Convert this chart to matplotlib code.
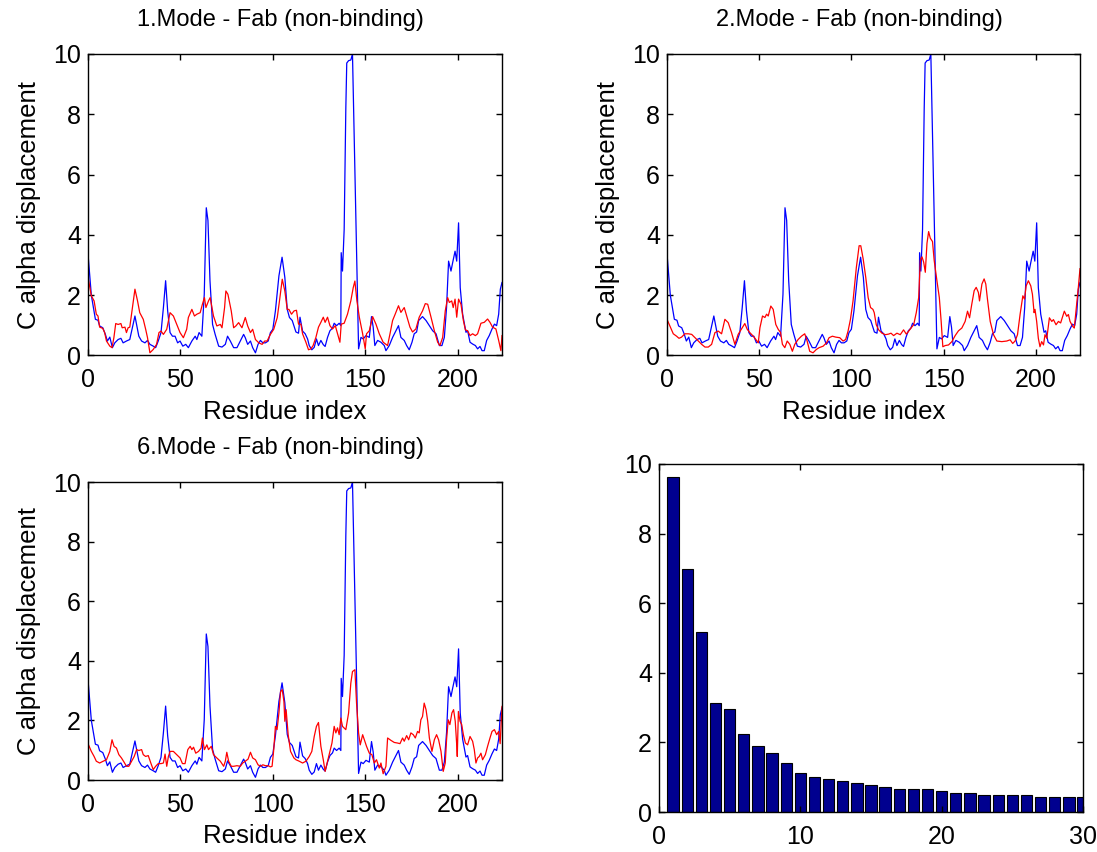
import numpy as np
import matplotlib
matplotlib.use("Agg")
import matplotlib.pyplot as plt

plt.rcParams['font.family'] = ['Liberation Sans', 'DejaVu Sans']
plt.rcParams['font.size'] = 17

# reference displacement (same in all three mode plots)
blue_idx = [0, 1.8, 4, 5.4, 6.3, 8, 9.4, 10.5, 11.8, 13.2, 14.5, 16.3, 17.8, 19, 20.8, 22.6, 23.6, 25.4, 26.3, 27.5,
            29, 30.8, 32.2, 33.5, 35.3, 36.6, 38, 39.5, 40.8, 42, 43.1, 44.4, 45.7, 47.1, 48.5, 49.8, 51.3, 52.9, 54.3,
            56.2, 58, 58.9, 60.1, 61.6, 62.9, 64, 64.9, 66, 67.4, 68.8, 70.7, 72.5, 74.3, 75.5, 77, 78.8, 80.6, 82.4,
            84.2, 85.1, 86.4, 87.9, 89.1, 90.6, 92, 93.3, 94.6, 96, 97.5, 98.7, 100, 101.4, 103.3, 105, 106.5, 107.8,
            109, 110.5, 112.5, 113.9, 114.7, 116.1, 117.5, 118.8, 119.7, 121.1, 122.4, 123.6, 124.7, 126, 127.3,
            128.3, 129.6, 130.9, 132.3, 133.2, 134.5, 135.9, 136.8, 137, 137.7, 138.6, 139.5, 140, 141, 142.2, 143.1,
            146.4, 147.7, 148.9, 150.4, 152.2, 153.4, 154.3, 155.2, 156.7, 158.5, 160.3, 161.2, 163, 164.8, 166.6,
            168, 169.3, 171.1, 172.4, 173.8, 175.3, 176.5, 177.8, 178.9, 181, 182.9, 184.7, 186.5, 188.3, 190.1,
            191.5, 192.8, 194, 195.1, 196.4, 197.3, 198.6, 199.5, 200.5, 201.4, 202.7, 204.5, 205.4, 206.7, 208.1,
            209.6, 210.8, 212.1, 213.2, 214.4, 215.7, 217.1, 218.6, 219.9, 221.1, 222.2, 223.1, 224]
blue_val = [3.37, 2.0, 1.2, 1.17, 0.98, 0.92, 0.7, 0.48, 0.61, 0.26, 0.42, 0.53, 0.57, 0.42, 0.48, 0.53, 0.81, 1.31,
            1.03, 0.64, 0.48, 0.42, 0.5, 0.37, 0.31, 0.26, 0.48, 0.76, 1.59, 2.48, 1.48, 0.76, 0.64, 0.64, 0.42, 0.48,
            0.31, 0.37, 0.26, 0.48, 0.64, 0.53, 0.76, 0.64, 2.03, 4.9, 4.48, 2.48, 1.03, 0.7, 0.31, 0.28, 0.37, 0.64,
            0.48, 0.26, 0.26, 0.48, 0.7, 0.59, 0.37, 0.48, 0.26, 0.09, 0.37, 0.5, 0.42, 0.42, 0.48, 0.76, 0.87, 1.48,
            2.64, 3.26, 2.59, 1.53, 1.26, 1.16, 0.78, 0.74, 1.27, 0.81, 0.72, 0.55, 0.33, 0.19, 0.27, 0.55, 0.33, 0.5,
            0.36, 0.3, 0.6, 0.82, 0.91, 1.07, 0.99, 1.07, 0.99, 3.41, 2.8, 4.18, 8.2, 9.7, 9.78, 9.8, 10.0,
            0.22, 0.6, 0.55, 0.66, 0.6, 1.29, 0.94, 0.33, 0.5, 0.44, 0.33, 0.16, 0.33, 0.6, 0.82,
            0.99, 0.6, 0.5, 0.33, 0.19, 0.44, 0.72, 0.78, 1.16, 1.29, 1.16, 0.99, 0.82, 0.72, 0.33,
            0.33, 0.6, 1.59, 3.13, 2.8, 3.08, 3.46, 3.13, 4.4, 2.25, 1.37, 0.77, 0.82, 0.44, 0.38,
            0.33, 0.22, 0.3, 0.16, 0.16, 0.5, 0.66, 0.88, 1.04, 0.99, 1.37, 2.2, 2.42]

# mode 1
red1_idx = [0, 1.8, 3.3, 4.5, 5.4, 6.3, 8, 9, 10, 11.8, 13, 14, 15, 16.3, 17.8, 18.5, 20, 20.8, 21.7, 22.6, 23.9, 25.4,
            26.8, 28, 29.9, 31.2, 32.2, 33.5, 35.3, 37.1, 38.4, 39.5, 40.8, 42.6, 44.4, 46.2, 48, 49.8, 51.6, 53.4,
            54.3, 56.2, 57.6, 58.9, 60.7, 61.9, 63, 63.8, 65.2, 66.1, 67.9, 69.7, 71.6, 72.5, 73.9, 74.6, 75.7, 77.5,
            78.8, 80, 81.5, 83.3, 85.1, 86.4, 87.9, 89.1, 90.6, 92.4, 94.2, 95.6, 96.9, 98.7, 100.5, 102.4, 103.6,
            105.1, 106.5, 107.8, 108.7, 110.1, 111.5, 112.8, 113.9, 115.2, 116.1, 117.9, 119.3, 120.6, 121.8, 123.3,
            124.7, 126, 127.3, 128.3, 129.6, 130.9, 132.3, 133.8, 135, 136.3, 137, 138.6, 140.4, 142.2, 143.5, 144.4,
            145.5, 146.8, 148.6, 150, 150.7, 152.2, 154, 155.8, 157.6, 159.7, 162.1, 163.4, 164.8, 166.2, 168, 169.3,
            171.1, 172.9, 174.2, 175.6, 177.4, 179.2, 181, 182.5, 183.8, 185.6, 187.4, 189.2, 190.4, 191.9, 193.3,
            194.6, 195.5, 196.8, 197.6, 198.6, 199.5, 200.5, 201.8, 203.1, 204.2, 205.4, 206.7, 208.1, 209.6, 210.8,
            212.6, 214.4, 216.2, 217.5, 218.9, 220.7, 222.2, 223.4, 224]
red1_val = [2.6, 1.98, 1.81, 1.37, 1.31, 0.94, 0.9, 0.76, 0.48, 0.31, 0.26, 0.59, 1.06, 1.03, 1.06, 0.92, 0.94, 0.76,
            0.92, 0.94, 1.53, 2.2, 1.81, 1.42, 1.2, 0.87, 0.59, 0.09, 0.2, 0.37, 0.76, 0.81, 0.7, 0.87, 1.42, 1.31,
            1.03, 0.76, 0.59, 0.87, 1.26, 1.53, 1.31, 1.37, 1.42, 1.7, 1.92, 1.59, 1.81, 1.92, 1.31, 0.98, 1.03, 0.92,
            1.59, 2.14, 2.03, 1.48, 0.92, 0.98, 1.09, 0.92, 1.26, 0.98, 0.76, 0.87, 0.53, 0.42, 0.37, 0.48, 0.48, 0.7,
            0.87, 1.26, 1.81, 2.53, 2.14, 1.53, 1.53, 1.37, 1.48, 1.5, 1.04, 1.04, 0.72, 0.44, 0.19, 0.22, 0.33, 0.6,
            0.94, 1.1, 1.27, 1.1, 1.27, 0.99, 0.88, 0.99, 0.72, 0.44, 1.04, 1.07, 1.37, 1.81, 2.25, 2.47, 1.81, 1.27,
            0.72, 0.22, 0.72, 0.82, 1.29, 1.04, 0.72, 0.44, 0.33, 0.72, 1.16, 1.37, 1.65, 1.43, 1.59, 1.21, 0.94, 0.78,
            0.88, 1.27, 1.48, 1.72, 1.7, 1.27, 0.82, 0.44, 0.33, 0.6, 1.48, 1.92, 1.76, 1.81, 1.59, 1.87, 1.27, 1.87,
            1.7, 1.16, 0.85, 0.82, 0.66, 0.72, 0.66, 0.72, 1.07, 1.1, 1.21, 1.1, 0.94, 0.88, 0.5, 0.16, 0.66]

# mode 2
red2_idx = [0, 2, 3.4, 5.2, 6.5, 7.9, 9.7, 11.6, 13.4, 15.2, 17, 18.8, 20.6, 22.4, 24.2, 26, 27.8, 29.6, 31.4, 33.2,
            35, 36.8, 38.6, 40.3, 42.2, 43.5, 44.9, 46.8, 48.2, 49.5, 50.4, 51.8, 53.1, 54, 54.9, 56.3, 57.6, 59,
            60.3, 61.6, 62.6, 63.9, 65.2, 66.6, 68, 69.3, 71.1, 72.9, 74.7, 76, 77.4, 79.2, 81, 82.5, 84.7, 86.5,
            87.9, 89.7, 91.5, 93.7, 95.5, 96.9, 98.2, 99.5, 100.9, 102.7, 104.2, 105.1, 106.4, 107.8, 109.1, 110.4,
            111.7, 112.4, 113.5, 114.8, 116.6, 118.4, 120.2, 121.5, 122.9, 124.7, 126.5, 128.3, 129.8, 131, 132.3,
            133.8, 135.2, 136.5, 137.4, 138.3, 139.2, 140.1, 141, 141.9, 142.8, 144, 144.9, 146.4, 147.7, 148.7,
            149.6, 150.9, 152.7, 154.5, 156.3, 158.1, 159.9, 161.7, 163, 164.1, 165.3, 166.6, 167.7, 168.9, 169.5,
            170.8, 172, 172.9, 173.8, 175.3, 177.1, 178.9, 181.6, 184.3, 186.1, 187.5, 188.8, 190.1, 191.5, 193,
            193.9, 194.8, 196, 197.3, 198.2, 199.1, 199.6, 200.5, 201.4, 202.3, 203.2, 204.2, 205, 206, 207.4, 208.7,
            209.6, 211, 212.3, 213.5, 214.6, 215.5, 216.8, 217.7, 218.6, 220, 220.9, 221.8, 223.1, 224]
red2_val = [1.2, 0.92, 0.72, 0.64, 0.57, 0.61, 0.72, 0.72, 0.7, 0.59, 0.48, 0.37, 0.28, 0.28, 0.37, 0.76, 0.81, 0.72,
            1.2, 1.09, 0.76, 0.37, 0.7, 0.87, 1.06, 0.87, 0.76, 0.64, 0.53, 0.42, 0.92, 1.31, 1.26, 1.37, 1.31, 1.64,
            1.53, 1.03, 0.87, 0.76, 0.37, 0.26, 0.48, 0.37, 0.14, 0.37, 0.53, 0.64, 0.72, 0.48, 0.14, 0.09, 0.2, 0.26,
            0.31, 0.42, 0.59, 0.64, 0.61, 0.59, 0.48, 0.53, 0.81, 1.2, 1.81, 2.92, 3.64, 3.64, 3.2, 2.59, 1.92, 1.59,
            1.53, 1.42, 1.02, 0.85, 0.74, 0.69, 0.71, 0.74, 0.66, 0.74, 0.69, 0.85, 0.71, 0.8, 0.91, 1.02, 1.42, 1.92,
            3.16, 3.27, 3.1, 2.76, 3.72, 4.11, 3.89, 3.78, 3.16, 2.48, 1.92, 1.13, 0.29, 0.33, 0.35, 0.46, 0.66, 0.82,
            0.91, 1.13, 1.47, 1.25, 1.7, 2.15, 2.26, 2.09, 1.81, 2.37, 2.54, 2.37, 1.87, 1.13, 0.69, 0.48, 0.46, 0.48,
            0.52, 0.4, 0.48, 0.69, 1.36, 1.98, 1.87, 2.31, 2.48, 2.31, 2.03, 1.42, 1.53, 1.13, 0.57, 0.29, 0.46, 0.35,
            0.69, 0.57, 1.25, 1.13, 1.19, 1.02, 1.13, 1.08, 1.3, 1.47, 1.3, 1.36, 1.13, 0.97, 0.91, 1.47, 2.26, 2.88]

# mode 6
red6_idx = [0, 1.8, 3.3, 4.5, 6.3, 8.2, 10, 11.8, 13, 14.1, 15.4, 16.7, 18.1, 19.6, 20.8, 22.1, 23.6, 25, 26.3, 27.5,
            29, 29.9, 31.2, 32.6, 34.1, 35.3, 36.6, 38, 39.5, 40.8, 41.7, 42.6, 43.5, 44.4, 46.2, 48, 49.8, 51.1,
            52.5, 54, 55.3, 56.2, 57.1, 58.3, 59.8, 61.2, 61.9, 63, 64.3, 65.2, 66.7, 67.9, 69.7, 71.6, 73.4, 74.3,
            75.1, 76.1, 77.5, 78.8, 80.6, 82.4, 83.7, 85.1, 86.6, 87.9, 89.1, 90.6, 92, 93.3, 94.6, 96, 97.5, 98.7,
            99.6, 100.5, 101.4, 102.3, 103.3, 104.2, 105.1, 106, 106.5, 107.2, 108.3, 109.6, 111.4, 112.5, 114.3,
            116.1, 117.9, 119.7, 121.1, 122.4, 123.6, 124.7, 126, 127.3, 128.3, 129.6, 130.9, 132, 133.2, 134.1, 135,
            135.9, 136.8, 137.7, 139.5, 141, 142.2, 143.1, 144.4, 145.3, 146.4, 147.3, 148.6, 149.5, 150.7, 152.2,
            153.6, 154.9, 156.1, 157.6, 158.5, 159.7, 161.2, 162.1, 163.9, 165.7, 167.5, 168.8, 170.2, 171.1, 172.4,
            173.5, 174.7, 176, 177.1, 178.3, 179.2, 180.1, 181, 181.9, 182.9, 183.8, 184.7, 186.1, 187.4, 188.6,
            189.7, 191, 192.2, 193.3, 194, 194.9, 195.8, 196.9, 197.8, 198.7, 199.5, 199.8, 200.4, 201.3, 202.2,
            203.1, 204.2, 205.4, 206.7, 208.1, 209, 209.9, 210.8, 211.7, 212.6, 213.5, 215, 216.2, 217.5, 218.6,
            219.9, 221.1, 222.2, 223, 224]
red6_val = [1.22, 0.96, 0.79, 0.63, 0.57, 0.63, 0.68, 0.96, 1.35, 1.13, 1.07, 0.85, 0.74, 0.59, 0.46, 0.46, 0.63, 0.79,
            1.02, 0.99, 1.02, 0.85, 0.79, 0.82, 0.55, 0.35, 0.46, 0.55, 0.55, 0.57, 0.87, 0.46, 0.79, 0.96, 0.96, 0.85,
            0.74, 0.55, 0.55, 1.02, 1.13, 1.02, 1.1, 0.9, 0.96, 1.07, 1.41, 1.02, 1.18, 1.02, 1.13, 0.85, 0.74, 0.63,
            0.46, 0.63, 0.93, 0.63, 0.46, 0.46, 0.48, 0.46, 0.57, 0.63, 0.7, 0.93, 0.74, 0.68, 0.51, 0.46, 0.51, 0.48,
            0.48, 0.44, 0.46, 1.02, 1.8, 1.69, 2.25, 2.97, 3.03, 2.64, 1.97, 2.36, 1.52, 0.96, 0.74, 0.68, 0.63, 0.57,
            0.63, 0.79, 0.96, 1.46, 1.8, 1.93, 1.13, 0.68, 0.29, 0.63, 0.96, 1.24, 1.8, 1.58, 1.75, 1.52, 2.08, 1.8,
            1.69, 2.25, 3.25, 3.64, 3.7, 2.58, 1.58, 1.18, 1.52, 1.35, 1.13, 0.9, 0.85, 0.57, 0.68, 0.4, 0.57, 0.21,
            0.46, 1.41, 1.33, 1.26, 1.24, 1.22, 1.41, 1.3, 1.49, 1.35, 1.58, 1.52, 1.41, 1.63, 1.58, 2.02, 2.13, 2.58,
            2.36, 1.97, 1.41, 0.96, 1.35, 1.52, 1.35, 0.96, 0.29, 0.57, 1.35, 2.02, 1.86, 2.25, 2.36, 1.97, 1.18, 0.79,
            2.3, 1.97, 1.86, 1.52, 1.24, 1.18, 1.46, 1.3, 1.02, 0.57, 0.74, 0.79, 0.9, 0.68, 0.85, 1.13, 1.41, 1.63,
            1.69, 1.52, 1.63, 1.22, 2.47]

# per-mode magnitudes for the first 30 modes
mode_no = np.arange(1, 31)
mode_amp = [9.62, 6.99, 5.16, 3.14, 2.97, 2.23, 1.89, 1.70, 1.42, 1.13, 1.01, 0.96, 0.90, 0.84, 0.78,
            0.73, 0.67, 0.67, 0.67, 0.61, 0.56, 0.56, 0.50, 0.50, 0.50, 0.50, 0.44, 0.44, 0.44, 0.44]

titles = ['1.Mode - Fab (non-binding)', '2.Mode - Fab (non-binding)', '6.Mode - Fab (non-binding)']
reds = [(red1_idx, red1_val), (red2_idx, red2_val), (red6_idx, red6_val)]

W, H = 1097, 852
fig = plt.figure(figsize=(W / 100, H / 100), dpi=100)


def box(l, t, r, b):
    return [l / W, 1 - b / H, (r - l) / W, (b - t) / H]


def matlab_axes(ax):
    ax.tick_params(direction='in', top=True, right=True, length=4, width=1, labelsize=18)
    ax.tick_params(axis='x', pad=9)
    ax.tick_params(axis='y', pad=5)
    for s in ax.spines.values():
        s.set_linewidth(1)
        s.set_color('black')


line_boxes = [box(88, 54, 502, 355.5), box(667, 54, 1080, 355.5), box(88, 482, 502, 780)]
for pos, t, (rx, ry) in zip(line_boxes, titles, reds):
    ax = fig.add_axes(pos)
    ax.plot(blue_idx, blue_val, color='b', lw=0.9)
    ax.plot(rx, ry, color='r', lw=0.9)
    ax.set_xlim(0, 224)
    ax.set_ylim(0, 10)
    ax.set_xticks([0, 50, 100, 150, 200])
    ax.set_yticks([0, 2, 4, 6, 8, 10])
    ax.set_title(t, fontsize=17, pad=20, x=0.466)
    ax.set_xlabel('Residue index', fontsize=18.5)
    ax.xaxis.set_label_coords(0.476, -0.148)
    ax.set_ylabel('C alpha displacement', fontsize=18.5, labelpad=9)
    matlab_axes(ax)

ax = fig.add_axes(box(659, 464, 1083, 812))
ax.bar(mode_no, mode_amp, width=0.8, color=(0, 0, 0.56), edgecolor='black', linewidth=0.8)
ax.set_xlim(0, 30)
ax.set_ylim(0, 10)
ax.set_xticks([0, 10, 20, 30])
ax.set_yticks([0, 2, 4, 6, 8, 10])
matlab_axes(ax)

fig.savefig('out.png', dpi=100)
